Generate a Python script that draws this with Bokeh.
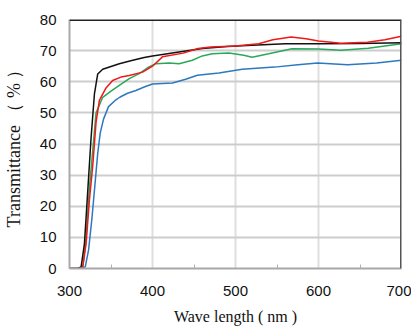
from bokeh.plotting import figure
from bokeh.models import FixedTicker, Range1d, Span
from bokeh.embed import file_html
from bokeh.resources import INLINE

# Wavelengths (nm) and transmittance (%) for the four samples
wl_black = [300, 310, 314, 318, 322, 326, 330, 334, 340, 350, 360, 375, 390, 400, 430, 460, 490, 520, 560, 600, 650, 700]
t_black = [0, 0, 0.5, 8, 25, 42, 56, 62.5, 64, 64.9, 65.8, 66.8, 67.8, 68.3, 69.5, 70.7, 71.3, 71.7, 72.2, 72.2, 72.3, 72.5]

wl_red = [300, 313, 316, 320, 324, 328, 332, 336, 344, 352, 362, 372, 388, 400, 412, 437, 455, 470, 500, 528, 545, 567, 585, 600, 627, 659, 680, 700]
t_red = [0, 0, 0.5, 8, 22, 33, 47, 54, 58, 60.4, 61.5, 62, 63.1, 65, 68, 69.2, 70.7, 71.2, 71.5, 72.2, 73.5, 74.4, 73.8, 73.1, 72.4, 72.7, 73.5, 74.6]

wl_green = [300, 313, 316, 320, 324, 328, 332, 340, 350, 360, 372, 384, 394, 404, 420, 432, 448, 460, 472, 492, 510, 520, 540, 568, 600, 627, 660, 700]
t_green = [0, 0, 0.5, 10, 26, 38, 50, 55, 57, 58.8, 61, 62.6, 64.5, 65.8, 66, 65.8, 66.9, 68.3, 69, 69.2, 68.5, 67.9, 69, 70.6, 70.5, 70.1, 70.8, 72.2]

wl_blue = [300, 315, 319, 323, 327, 331, 334, 337, 341, 347, 355, 361, 370, 380, 390, 400, 424, 440, 454, 480, 508, 547, 575, 599, 635, 670, 700]
t_blue = [0, 0, 0.5, 6, 16, 28, 37, 43.5, 48, 52, 54, 55.1, 56.3, 57.2, 58.3, 59.3, 59.6, 60.8, 62.1, 62.8, 64, 64.7, 65.5, 66, 65.5, 66, 66.9]

x_ticks = [300, 400, 500, 600, 700]
x_minor = [350, 450, 550, 650]
y_ticks = [0, 10, 20, 30, 40, 50, 60, 70, 80]

p = figure(width=411, height=329, output_backend="svg", toolbar_location=None,
           x_range=Range1d(300, 700), y_range=Range1d(0, 80),
           min_border_left=66, min_border_right=10, min_border_top=19, min_border_bottom=61)
p.outline_line_color = None
p.background_fill_color = "white"

for xs, ys, c in [(wl_blue, t_blue, "#2e78c0"), (wl_green, t_green, "#2aa85a"),
                  (wl_black, t_black, "#111111"), (wl_red, t_red, "#f01818")]:
    p.line(xs, ys, line_color=c, line_width=1.5)

p.xaxis.ticker = FixedTicker(ticks=x_ticks, minor_ticks=x_minor)
p.yaxis.ticker = FixedTicker(ticks=y_ticks)
p.xgrid.grid_line_color = "#dedede"
p.xgrid.grid_line_width = 2
p.ygrid.grid_line_color = "#cdcdcd"
p.ygrid.grid_line_width = 2

for ax in (p.xaxis, p.yaxis):
    ax.axis_line_color = "#a8a8a8"
    ax.axis_line_width = 2
    ax.major_tick_in = 0
    ax.major_tick_out = 0
    ax.major_label_text_font = "Liberation Sans Narrow, Arial Narrow, Liberation Sans, Arial"
    ax.major_label_text_font_size = "15px"
    ax.major_label_text_color = "#111111"
    ax.axis_label_text_font = "Liberation Serif, Times New Roman, serif"
    ax.axis_label_text_font_style = "normal"
    ax.axis_label_text_color = "#111111"

p.xaxis.minor_tick_in = 4
p.xaxis.minor_tick_out = 0
p.xaxis.minor_tick_line_color = "#b0b0b0"
p.yaxis.minor_tick_line_color = None
p.xaxis.major_label_standoff = 17
p.yaxis.major_label_standoff = 13
p.xaxis.axis_label = "Wave length ( nm )"
p.xaxis.axis_label_text_font_size = "16px"
p.xaxis.axis_label_standoff = 9
p.yaxis.axis_label = "Transmittance （ % ）"
p.yaxis.axis_label_text_font_size = "18px"
p.yaxis.axis_label_standoff = 13

p.add_layout(Span(location=80, dimension="width", line_color="#222222", line_width=3))
p.add_layout(Span(location=700, dimension="height", line_color="#555555", line_width=3))

open("out.html", "w").write(file_html(p, INLINE))
